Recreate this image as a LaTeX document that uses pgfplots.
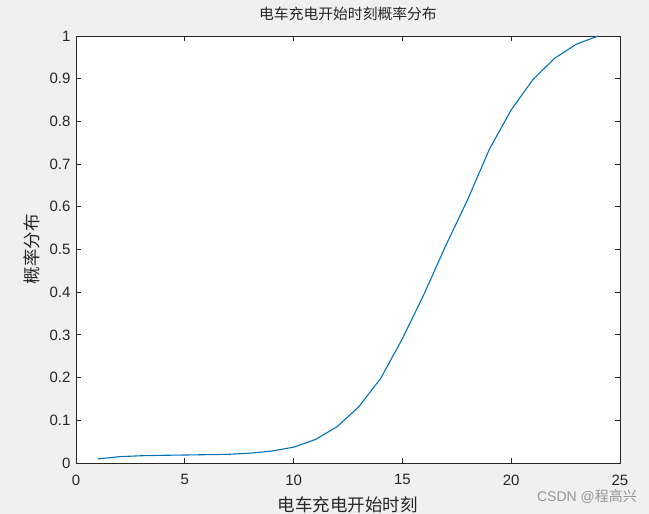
\documentclass[border=0pt]{standalone}
\usepackage{pgfplots}
\pgfplotsset{compat=1.18}
\usepackage{fontspec}
\setmainfont{Liberation Sans}
\newfontfamily\cjk{Noto Sans CJK SC}
\definecolor{bg}{RGB}{240,240,240}
\definecolor{axc}{RGB}{38,38,38}
\definecolor{mblue}{RGB}{0,114,189}
\definecolor{wm}{RGB}{150,150,150}
\begin{document}
\begin{tikzpicture}
\fill[bg] (-76pt,-51pt) rectangle (573pt,463pt);
\begin{axis}[
  at={(0pt,0pt)}, anchor=south west,
  width=544pt, height=427pt, scale only axis,
  xmin=0, xmax=25, ymin=0, ymax=1,
  xtick={0,5,...,25},
  ytick={0,0.1,...,1},
  yticklabels={0,0.1,0.2,0.3,0.4,0.5,0.6,0.7,0.8,0.9,1},
  tick align=inside,
  major tick length=5pt,
  axis background/.style={fill=white},
  axis line style={axc, line width=0.8pt},
  every tick/.style={axc, line width=0.8pt},
  tick label style={font=\fontsize{15}{18}\selectfont, text=axc},
  /pgf/number format/assume math mode=true,
  xticklabel style={yshift=-8pt},
  yticklabel style={xshift=-2pt},
  title={\cjk\fontsize{14.8}{17}\selectfont 电车充电开始时刻概率分布},
  title style={at={(axis description cs:0.5,1.037)}, anchor=center, text=axc},
  xlabel={\cjk\fontsize{17.5}{20}\selectfont 电车充电开始时刻},
  xlabel style={at={(axis description cs:0.5,-0.098)}, anchor=center, text=axc},
  ylabel={\cjk\fontsize{17.5}{20}\selectfont 概率分布},
  ylabel style={at={(axis description cs:-0.081,0.5)}, anchor=center, rotate=0, text=axc},
]
\addplot[mblue, line width=1.1pt] coordinates {
(1,0.0095) (2,0.0148) (3,0.017) (4,0.018) (5,0.0187) (6,0.0195) (7,0.0203)
(8,0.023) (9,0.028) (10,0.037) (11,0.055) (12,0.085) (13,0.132) (14,0.198)
(15,0.291) (16,0.396) (17,0.510) (18,0.617) (19,0.735) (20,0.827)
(21,0.898) (22,0.948) (23,0.981) (24,1.0)
};
\end{axis}
\node[text=wm, font=\fontsize{14}{16}\selectfont, anchor=center] at (511pt,-34pt) {CSDN @{\cjk 程高兴}};
\pgfresetboundingbox
\path (-76pt,-51pt) rectangle (573pt,463pt);
\end{tikzpicture}
\end{document}
